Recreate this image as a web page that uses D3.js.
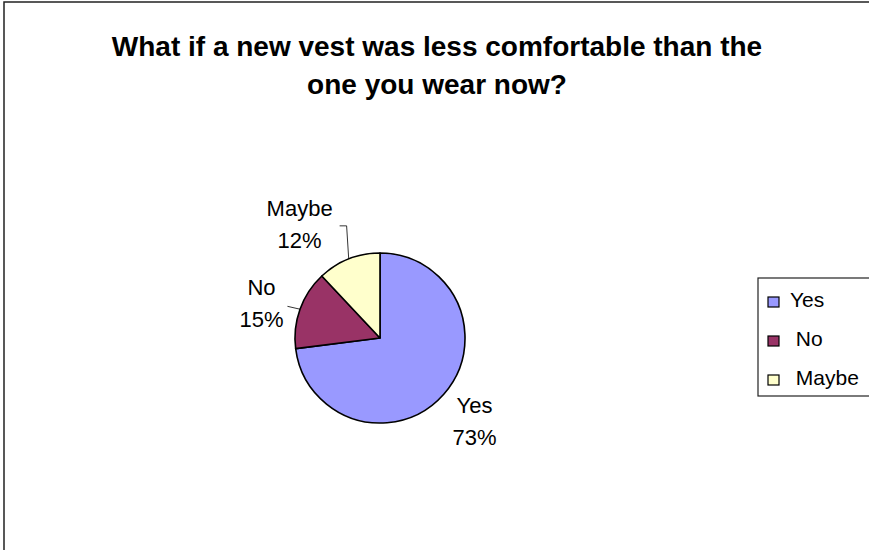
<!DOCTYPE html>
<html>
<head>
<meta charset="utf-8">
<script src="https://cdn.jsdelivr.net/npm/d3@7"></script>
<style>
  body { margin: 0; background: #fff; }
  text { font-family: "Liberation Sans", Arial, sans-serif; }
</style>
</head>
<body>
<svg width="869" height="550"></svg>
<script>
let titleLines = ['What if a new vest was less comfortable than the', 'one you wear now?'];
let categories = ['Yes', 'No', 'Maybe'];
let values = [73, 15, 12];
let colors = ['#9999FF', '#993366', '#FFFFCC'];

let svg = d3.select('svg'),
    width = +svg.attr('width'),
    height = +svg.attr('height');

let cx = 380, cy = 338, radius = 85, labelRadius = 126;

// chart frame (runs off the right and bottom edge)
svg.append('rect')
    .attr('x', 4).attr('y', 2)
    .attr('width', width + 20).attr('height', height + 20)
    .attr('fill', '#fff').attr('stroke', '#222').attr('stroke-width', 1.5);

svg.append('g').selectAll('text')
    .data(titleLines)
    .enter().append('text')
    .attr('x', 437)
    .attr('y', function(d, i) { return 56 + i * 38; })
    .attr('text-anchor', 'middle')
    .attr('font-size', '28px')
    .attr('font-weight', 'bold')
    .text(function(d) { return d; });

let data = categories.map(function(c, i) { return {name: c, value: values[i], color: colors[i]}; });

let pie = d3.pie().sort(null).value(function(d) { return d.value; });
let arc = d3.arc().innerRadius(0).outerRadius(radius);
let arcs = pie(data);

let g = svg.append('g').attr('transform', 'translate(' + cx + ',' + cy + ')');

g.selectAll('path')
    .data(arcs)
    .enter().append('path')
    .attr('d', arc)
    .attr('fill', function(d) { return d.data.color; })
    .attr('stroke', '#000')
    .attr('stroke-width', 1.6)
    .attr('stroke-linejoin', 'round');

// labels were dragged out by hand in the original, nudge those
let nudge = {Yes: [0, 0], No: [0, 8], Maybe: [-34, 3]};

function polar(a, r) { return [Math.sin(a) * r, -Math.cos(a) * r]; }

arcs.forEach(function(d) {
  let mid = (d.startAngle + d.endAngle) / 2;
  let p = polar(mid, labelRadius);
  let n = nudge[d.data.name];
  let lx = p[0] + n[0], ly = p[1] + n[1];
  d.lx = lx; d.ly = ly; d.edge = polar(mid, radius);

  let t = g.append('text')
      .attr('text-anchor', 'middle')
      .attr('font-size', '22px')
      .attr('fill', '#000');
  t.append('tspan').attr('x', lx).attr('y', ly - 8).text(d.data.name);
  t.append('tspan').attr('x', lx).attr('y', ly + 24).text(Math.round(d.value) + '%');
});

// leader lines
let leaders = arcs.filter(function(d) { return d.data.name != 'Yes'; }).map(function(d) {
  if (d.data.name == 'Maybe') {
    return [[d.lx + 40, d.ly + 2], [d.lx + 47, d.ly + 2], d.edge];
  }
  return [[d.lx + 26, d.ly + 3], d.edge];
});

g.selectAll('.leader')
    .data(leaders)
    .enter().append('path')
    .attr('class', 'leader')
    .attr('d', d3.line())
    .attr('fill', 'none')
    .attr('stroke', '#000')
    .attr('stroke-width', 0.8);

// legend
let legend = svg.append('g').attr('transform', 'translate(758,278)');
legend.append('rect')
    .attr('width', 140).attr('height', 118)
    .attr('fill', '#fff').attr('stroke', '#222').attr('stroke-width', 1.2);

let item = legend.selectAll('.item')
    .data(data)
    .enter().append('g')
    .attr('class', 'item')
    .attr('transform', function(d, i) { return 'translate(0,' + (29 + i * 39) + ')'; });

item.append('rect')
    .attr('x', 10).attr('y', -10)
    .attr('width', 11).attr('height', 10)
    .attr('fill', function(d) { return d.color; })
    .attr('stroke', '#000').attr('stroke-width', 1.2);

item.append('text')
    .attr('x', 32).attr('y', 0)
    .attr('font-size', '21px')
    .style('white-space', 'pre')
    .text(function(d, i) { return (i > 0 ? ' ' : '') + d.name; });
</script>
</body>
</html>
